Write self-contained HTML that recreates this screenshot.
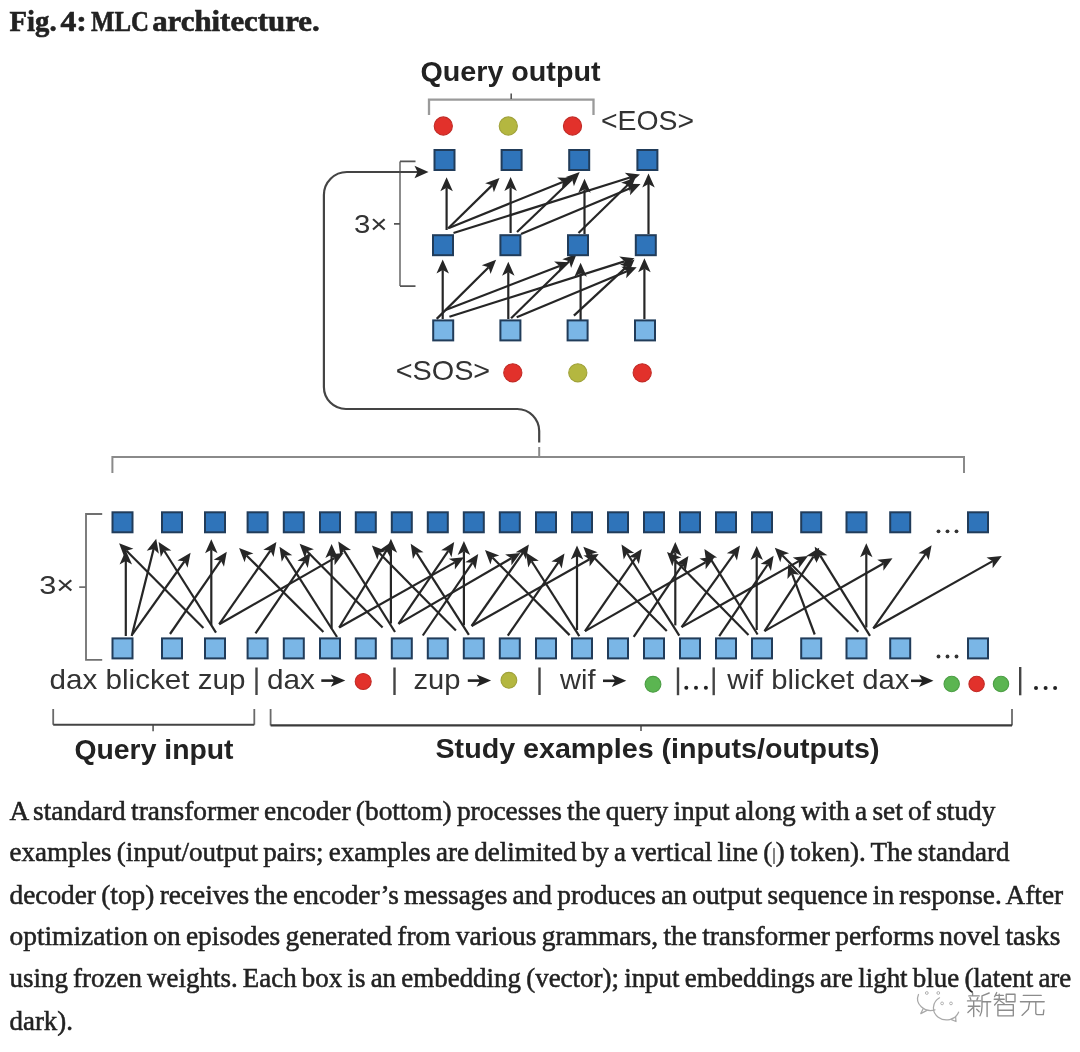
<!DOCTYPE html>
<html><head><meta charset="utf-8"><style>
html,body{margin:0;padding:0;background:#fff;width:1080px;height:1052px;overflow:hidden}
svg{display:block;filter:blur(0.45px)}
</style></head><body>
<svg width="1080" height="1052" viewBox="0 0 1080 1052">
<text x="9.6" y="31" font-family="'Liberation Serif', serif" font-size="29" font-weight="bold" fill="#222" textLength="47" lengthAdjust="spacingAndGlyphs" text-anchor="start" stroke="#222" stroke-width="0.6">Fig.</text>
<text x="60.5" y="31" font-family="'Liberation Serif', serif" font-size="29" font-weight="bold" fill="#222" textLength="26.4" lengthAdjust="spacingAndGlyphs" text-anchor="start" stroke="#222" stroke-width="0.6">4:</text>
<text x="91.0" y="31" font-family="'Liberation Serif', serif" font-size="29" font-weight="bold" fill="#222" textLength="58" lengthAdjust="spacingAndGlyphs" text-anchor="start" stroke="#222" stroke-width="0.6">MLC</text>
<text x="152.2" y="31" font-family="'Liberation Serif', serif" font-size="29" font-weight="bold" fill="#222" textLength="167.5" lengthAdjust="spacingAndGlyphs" text-anchor="start" stroke="#222" stroke-width="0.6">architecture.</text>
<text x="420.5" y="81.3" font-family="'Liberation Sans', sans-serif" font-size="28" font-weight="bold" fill="#222" textLength="180" lengthAdjust="spacingAndGlyphs" text-anchor="start" >Query output</text>
<path d="M429,115V99.6H593.5V115" fill="none" stroke="#9a9a9a" stroke-width="2.3"/>
<path d="M511.2,99V93.6" fill="none" stroke="#555" stroke-width="1.6"/>
<circle cx="443.3" cy="126" r="9.1" fill="#e2312b" stroke="#c22b26" stroke-width="1.1"/>
<circle cx="508.3" cy="126" r="9.1" fill="#b4b740" stroke="#a0a23a" stroke-width="1.1"/>
<circle cx="572.5" cy="126" r="9.1" fill="#e2312b" stroke="#c22b26" stroke-width="1.1"/>
<text x="601" y="129.8" font-family="'Liberation Sans', sans-serif" font-size="28" font-weight="normal" fill="#333" textLength="93" lengthAdjust="spacingAndGlyphs" text-anchor="start" >&lt;EOS&gt;</text>
<line x1="446.60" y1="230.00" x2="446.60" y2="187.70" stroke="#262626" stroke-width="2.2"/><path d="M446.60,177.20L452.85,191.20L446.60,187.70L440.35,191.20Z" fill="#262626"/>
<line x1="448.00" y1="228.50" x2="492.00" y2="185.35" stroke="#262626" stroke-width="2.2"/><path d="M499.50,178.00L493.88,192.26L492.00,185.35L485.13,183.34Z" fill="#262626"/>
<line x1="449.00" y1="228.00" x2="562.77" y2="181.94" stroke="#262626" stroke-width="2.2"/><path d="M572.50,178.00L561.87,189.05L562.77,181.94L557.18,177.46Z" fill="#262626"/>
<line x1="453.50" y1="233.00" x2="629.98" y2="177.55" stroke="#262626" stroke-width="2.2"/><path d="M640.00,174.40L628.52,184.56L629.98,177.55L624.77,172.63Z" fill="#262626"/>
<line x1="510.60" y1="233.00" x2="510.60" y2="187.50" stroke="#262626" stroke-width="2.2"/><path d="M510.60,177.00L516.85,191.00L510.60,187.50L504.35,191.00Z" fill="#262626"/>
<line x1="517.00" y1="232.00" x2="572.11" y2="179.26" stroke="#262626" stroke-width="2.2"/><path d="M579.70,172.00L573.91,186.19L572.11,179.26L565.26,177.16Z" fill="#262626"/>
<line x1="521.00" y1="234.00" x2="630.81" y2="188.05" stroke="#262626" stroke-width="2.2"/><path d="M640.50,184.00L630.00,195.17L630.81,188.05L625.17,183.64Z" fill="#262626"/>
<line x1="584.50" y1="234.00" x2="584.50" y2="189.30" stroke="#262626" stroke-width="2.2"/><path d="M584.50,178.80L590.75,192.80L584.50,189.30L578.25,192.80Z" fill="#262626"/>
<line x1="578.50" y1="233.00" x2="627.98" y2="184.82" stroke="#262626" stroke-width="2.2"/><path d="M635.50,177.50L629.83,191.74L627.98,184.82L621.11,182.79Z" fill="#262626"/>
<line x1="648.50" y1="234.00" x2="648.50" y2="183.90" stroke="#262626" stroke-width="2.2"/><path d="M648.50,173.40L654.75,187.40L648.50,183.90L642.25,187.40Z" fill="#262626"/>
<line x1="442.70" y1="319.00" x2="442.70" y2="270.10" stroke="#262626" stroke-width="2.2"/><path d="M442.70,259.60L448.95,273.60L442.70,270.10L436.45,273.60Z" fill="#262626"/>
<line x1="436.70" y1="318.90" x2="488.66" y2="267.21" stroke="#262626" stroke-width="2.2"/><path d="M496.10,259.80L490.58,274.10L488.66,267.21L481.77,265.24Z" fill="#262626"/>
<line x1="445.60" y1="310.00" x2="559.60" y2="265.98" stroke="#262626" stroke-width="2.2"/><path d="M569.40,262.20L558.59,273.07L559.60,265.98L554.09,261.41Z" fill="#262626"/>
<line x1="449.40" y1="316.70" x2="624.49" y2="261.36" stroke="#262626" stroke-width="2.2"/><path d="M634.50,258.20L623.03,268.38L624.49,261.36L619.27,256.46Z" fill="#262626"/>
<line x1="508.30" y1="319.00" x2="508.30" y2="272.20" stroke="#262626" stroke-width="2.2"/><path d="M508.30,261.70L514.55,275.70L508.30,272.20L502.05,275.70Z" fill="#262626"/>
<line x1="511.10" y1="318.30" x2="569.21" y2="261.16" stroke="#262626" stroke-width="2.2"/><path d="M576.70,253.80L571.10,268.07L569.21,261.16L562.34,259.16Z" fill="#262626"/>
<line x1="516.70" y1="317.20" x2="627.01" y2="271.24" stroke="#262626" stroke-width="2.2"/><path d="M636.70,267.20L626.18,278.35L627.01,271.24L621.37,266.82Z" fill="#262626"/>
<line x1="580.60" y1="322.00" x2="580.60" y2="273.30" stroke="#262626" stroke-width="2.2"/><path d="M580.60,262.80L586.85,276.80L580.60,273.30L574.35,276.80Z" fill="#262626"/>
<line x1="573.90" y1="315.60" x2="626.79" y2="266.63" stroke="#262626" stroke-width="2.2"/><path d="M634.50,259.50L628.47,273.60L626.79,266.63L619.98,264.42Z" fill="#262626"/>
<line x1="644.40" y1="319.00" x2="644.40" y2="268.80" stroke="#262626" stroke-width="2.2"/><path d="M644.40,258.30L650.65,272.30L644.40,268.80L638.15,272.30Z" fill="#262626"/>
<rect x="434.50" y="150.00" width="20" height="20" fill="#2f74ba" stroke="#213c5a" stroke-width="2"/>
<rect x="501.60" y="150.00" width="20" height="20" fill="#2f74ba" stroke="#213c5a" stroke-width="2"/>
<rect x="569.20" y="150.00" width="20" height="20" fill="#2f74ba" stroke="#213c5a" stroke-width="2"/>
<rect x="637.40" y="150.00" width="20" height="20" fill="#2f74ba" stroke="#213c5a" stroke-width="2"/>
<rect x="433.00" y="235.20" width="20" height="20" fill="#2f74ba" stroke="#213c5a" stroke-width="2"/>
<rect x="500.40" y="235.20" width="20" height="20" fill="#2f74ba" stroke="#213c5a" stroke-width="2"/>
<rect x="568.00" y="235.20" width="20" height="20" fill="#2f74ba" stroke="#213c5a" stroke-width="2"/>
<rect x="635.80" y="235.20" width="20" height="20" fill="#2f74ba" stroke="#213c5a" stroke-width="2"/>
<rect x="433.20" y="320.40" width="20" height="20" fill="#7ab6e6" stroke="#213c5a" stroke-width="2"/>
<rect x="500.40" y="320.40" width="20" height="20" fill="#7ab6e6" stroke="#213c5a" stroke-width="2"/>
<rect x="567.60" y="320.40" width="20" height="20" fill="#7ab6e6" stroke="#213c5a" stroke-width="2"/>
<rect x="635.00" y="320.40" width="20" height="20" fill="#7ab6e6" stroke="#213c5a" stroke-width="2"/>
<path d="M400,161.4V286.1" fill="none" stroke="#8c8c8c" stroke-width="2"/>
<path d="M415.5,161.4H400M400,286.1H415.5M400,223.8H394" fill="none" stroke="#555" stroke-width="1.7"/>
<text x="354" y="233.4" font-family="'Liberation Sans', sans-serif" font-size="26.5" font-weight="normal" fill="#333" textLength="33.5" lengthAdjust="spacingAndGlyphs" text-anchor="start" >3×</text>
<text x="395.7" y="380.3" font-family="'Liberation Sans', sans-serif" font-size="28" font-weight="normal" fill="#333" textLength="94.5" lengthAdjust="spacingAndGlyphs" text-anchor="start" >&lt;SOS&gt;</text>
<circle cx="512.8" cy="372.8" r="9.1" fill="#e2312b" stroke="#c22b26" stroke-width="1.1"/>
<circle cx="577.8" cy="372.8" r="9.1" fill="#b4b740" stroke="#a0a23a" stroke-width="1.1"/>
<circle cx="642.2" cy="372.8" r="9.1" fill="#e2312b" stroke="#c22b26" stroke-width="1.1"/>
<path d="M539.2,442.5V431A22,22 0 0 0 517.2,409H345.9A22,22 0 0 1 323.9,387V195A23,23 0 0 1 346.9,172H418" fill="none" stroke="#444" stroke-width="2.2"/>
<path d="M428.5,172L414.5,165.8L417.5,172L414.5,178.2Z" fill="#262626"/>
<path d="M112.4,473V457H964V473M539.2,457V447" fill="none" stroke="#8a8a8a" stroke-width="2"/>
<path d="M102.2,514H86V659.9H102.2M86,587.2H79.2" fill="none" stroke="#707070" stroke-width="1.8"/>
<text x="39.3" y="594.3" font-family="'Liberation Sans', sans-serif" font-size="26.5" font-weight="normal" fill="#333" textLength="35" lengthAdjust="spacingAndGlyphs" text-anchor="start" >3×</text>
<line x1="125.80" y1="636.00" x2="125.80" y2="561.00" stroke="#262626" stroke-width="2.2"/><path d="M125.80,550.50L132.05,564.50L125.80,561.00L119.55,564.50Z" fill="#262626"/>
<line x1="131.70" y1="636.00" x2="153.64" y2="548.88" stroke="#262626" stroke-width="2.2"/><path d="M156.20,538.70L158.84,553.80L153.64,548.88L146.72,550.75Z" fill="#262626"/>
<line x1="132.50" y1="634.20" x2="184.50" y2="561.25" stroke="#262626" stroke-width="2.2"/><path d="M190.60,552.70L187.56,567.73L184.50,561.25L177.38,560.47Z" fill="#262626"/>
<line x1="203.40" y1="628.00" x2="126.51" y2="550.74" stroke="#262626" stroke-width="2.2"/><path d="M119.10,543.30L133.41,548.81L126.51,550.74L124.55,557.63Z" fill="#262626"/>
<line x1="216.00" y1="632.60" x2="164.22" y2="550.77" stroke="#262626" stroke-width="2.2"/><path d="M158.60,541.90L171.37,550.39L164.22,550.77L160.81,557.07Z" fill="#262626"/>
<line x1="170.00" y1="634.00" x2="220.83" y2="560.44" stroke="#262626" stroke-width="2.2"/><path d="M226.80,551.80L223.98,566.87L220.83,560.44L213.70,559.76Z" fill="#262626"/>
<line x1="211.30" y1="625.00" x2="211.30" y2="549.70" stroke="#262626" stroke-width="2.2"/><path d="M211.30,539.20L217.55,553.20L211.30,549.70L205.05,553.20Z" fill="#262626"/>
<line x1="219.20" y1="624.20" x2="270.41" y2="550.52" stroke="#262626" stroke-width="2.2"/><path d="M276.40,541.90L273.54,556.96L270.41,550.52L263.28,549.83Z" fill="#262626"/>
<line x1="219.20" y1="624.20" x2="334.49" y2="558.12" stroke="#262626" stroke-width="2.2"/><path d="M343.60,552.90L334.56,565.28L334.49,558.12L328.35,554.44Z" fill="#262626"/>
<line x1="323.40" y1="632.00" x2="246.54" y2="555.41" stroke="#262626" stroke-width="2.2"/><path d="M239.10,548.00L253.43,553.45L246.54,555.41L244.61,562.31Z" fill="#262626"/>
<line x1="255.50" y1="633.40" x2="304.58" y2="561.47" stroke="#262626" stroke-width="2.2"/><path d="M310.50,552.80L307.77,567.89L304.58,561.47L297.45,560.84Z" fill="#262626"/>
<line x1="337.00" y1="637.00" x2="285.14" y2="555.56" stroke="#262626" stroke-width="2.2"/><path d="M279.50,546.70L292.29,555.15L285.14,555.56L281.75,561.87Z" fill="#262626"/>
<line x1="382.60" y1="627.60" x2="306.99" y2="551.26" stroke="#262626" stroke-width="2.2"/><path d="M299.60,543.80L313.89,549.35L306.99,551.26L305.01,558.15Z" fill="#262626"/>
<line x1="331.60" y1="628.50" x2="331.60" y2="554.50" stroke="#262626" stroke-width="2.2"/><path d="M331.60,544.00L337.85,558.00L331.60,554.50L325.35,558.00Z" fill="#262626"/>
<line x1="395.00" y1="632.00" x2="343.87" y2="550.30" stroke="#262626" stroke-width="2.2"/><path d="M338.30,541.40L351.03,549.95L343.87,550.30L340.43,556.58Z" fill="#262626"/>
<line x1="339.20" y1="627.50" x2="386.51" y2="550.45" stroke="#262626" stroke-width="2.2"/><path d="M392.00,541.50L390.00,556.70L386.51,550.45L379.35,550.16Z" fill="#262626"/>
<line x1="339.20" y1="627.50" x2="454.85" y2="562.35" stroke="#262626" stroke-width="2.2"/><path d="M464.00,557.20L454.87,569.52L454.85,562.35L448.73,558.63Z" fill="#262626"/>
<line x1="455.90" y1="630.40" x2="379.28" y2="552.96" stroke="#262626" stroke-width="2.2"/><path d="M371.90,545.50L386.19,551.06L379.28,552.96L377.30,559.85Z" fill="#262626"/>
<line x1="390.90" y1="623.50" x2="390.90" y2="549.30" stroke="#262626" stroke-width="2.2"/><path d="M390.90,538.80L397.15,552.80L390.90,549.30L384.65,552.80Z" fill="#262626"/>
<line x1="398.50" y1="623.90" x2="448.29" y2="550.78" stroke="#262626" stroke-width="2.2"/><path d="M454.20,542.10L451.49,557.19L448.29,550.78L441.15,550.15Z" fill="#262626"/>
<line x1="463.90" y1="625.30" x2="463.90" y2="551.50" stroke="#262626" stroke-width="2.2"/><path d="M463.90,541.00L470.15,555.00L463.90,551.50L457.65,555.00Z" fill="#262626"/>
<line x1="398.50" y1="623.90" x2="511.33" y2="558.18" stroke="#262626" stroke-width="2.2"/><path d="M520.40,552.90L511.45,565.35L511.33,558.18L505.16,554.55Z" fill="#262626"/>
<line x1="422.80" y1="635.50" x2="472.29" y2="562.78" stroke="#262626" stroke-width="2.2"/><path d="M478.20,554.10L475.49,569.19L472.29,562.78L465.16,562.16Z" fill="#262626"/>
<line x1="468.90" y1="634.80" x2="416.36" y2="552.65" stroke="#262626" stroke-width="2.2"/><path d="M410.70,543.80L423.51,552.23L416.36,552.65L412.98,558.96Z" fill="#262626"/>
<line x1="471.60" y1="626.00" x2="522.87" y2="552.99" stroke="#262626" stroke-width="2.2"/><path d="M528.90,544.40L525.97,559.45L522.87,552.99L515.74,552.27Z" fill="#262626"/>
<line x1="471.60" y1="626.00" x2="589.56" y2="559.27" stroke="#262626" stroke-width="2.2"/><path d="M598.70,554.10L589.59,566.43L589.56,559.27L583.44,555.55Z" fill="#262626"/>
<line x1="569.60" y1="635.10" x2="492.41" y2="557.54" stroke="#262626" stroke-width="2.2"/><path d="M485.00,550.10L499.31,555.61L492.41,557.54L490.45,564.43Z" fill="#262626"/>
<line x1="507.80" y1="635.60" x2="558.53" y2="562.14" stroke="#262626" stroke-width="2.2"/><path d="M564.50,553.50L561.69,568.57L558.53,562.14L551.40,561.47Z" fill="#262626"/>
<line x1="579.30" y1="636.20" x2="531.64" y2="561.26" stroke="#262626" stroke-width="2.2"/><path d="M526.00,552.40L538.79,560.86L531.64,561.26L528.24,567.57Z" fill="#262626"/>
<line x1="577.00" y1="630.00" x2="577.00" y2="556.00" stroke="#262626" stroke-width="2.2"/><path d="M577.00,545.50L583.25,559.50L577.00,556.00L570.75,559.50Z" fill="#262626"/>
<line x1="585.00" y1="631.10" x2="635.73" y2="557.64" stroke="#262626" stroke-width="2.2"/><path d="M641.70,549.00L638.89,564.07L635.73,557.64L628.60,556.97Z" fill="#262626"/>
<line x1="585.00" y1="631.10" x2="705.58" y2="562.21" stroke="#262626" stroke-width="2.2"/><path d="M714.70,557.00L705.64,569.37L705.58,562.21L699.44,558.52Z" fill="#262626"/>
<line x1="679.30" y1="635.60" x2="627.12" y2="553.27" stroke="#262626" stroke-width="2.2"/><path d="M621.50,544.40L634.27,552.88L627.12,553.27L623.72,559.57Z" fill="#262626"/>
<line x1="666.80" y1="631.10" x2="590.68" y2="554.16" stroke="#262626" stroke-width="2.2"/><path d="M583.30,546.70L597.59,552.26L590.68,554.16L588.70,561.05Z" fill="#262626"/>
<line x1="633.70" y1="636.80" x2="682.51" y2="564.69" stroke="#262626" stroke-width="2.2"/><path d="M688.40,556.00L685.73,571.10L682.51,564.69L675.38,564.09Z" fill="#262626"/>
<line x1="675.30" y1="625.40" x2="675.30" y2="552.60" stroke="#262626" stroke-width="2.2"/><path d="M675.30,542.10L681.55,556.10L675.30,552.60L669.05,556.10Z" fill="#262626"/>
<line x1="748.50" y1="635.00" x2="674.36" y2="559.49" stroke="#262626" stroke-width="2.2"/><path d="M667.00,552.00L681.27,557.61L674.36,559.49L672.35,566.37Z" fill="#262626"/>
<line x1="757.60" y1="634.50" x2="709.95" y2="557.92" stroke="#262626" stroke-width="2.2"/><path d="M704.40,549.00L717.10,557.58L709.95,557.92L706.49,564.19Z" fill="#262626"/>
<line x1="681.60" y1="627.10" x2="733.89" y2="554.04" stroke="#262626" stroke-width="2.2"/><path d="M740.00,545.50L736.93,560.52L733.89,554.04L726.77,553.25Z" fill="#262626"/>
<line x1="681.60" y1="627.10" x2="798.85" y2="561.15" stroke="#262626" stroke-width="2.2"/><path d="M808.00,556.00L798.86,568.31L798.85,561.15L792.73,557.42Z" fill="#262626"/>
<line x1="719.20" y1="636.20" x2="767.72" y2="564.50" stroke="#262626" stroke-width="2.2"/><path d="M773.60,555.80L770.93,570.90L767.72,564.50L760.58,563.89Z" fill="#262626"/>
<line x1="756.70" y1="630.00" x2="756.70" y2="556.60" stroke="#262626" stroke-width="2.2"/><path d="M756.70,546.10L762.95,560.10L756.70,556.60L750.45,560.10Z" fill="#262626"/>
<line x1="858.30" y1="631.70" x2="782.21" y2="555.24" stroke="#262626" stroke-width="2.2"/><path d="M774.80,547.80L789.11,553.31L782.21,555.24L780.25,562.13Z" fill="#262626"/>
<line x1="764.50" y1="631.10" x2="813.44" y2="556.58" stroke="#262626" stroke-width="2.2"/><path d="M819.20,547.80L816.74,562.93L813.44,556.58L806.29,556.07Z" fill="#262626"/>
<line x1="764.50" y1="631.10" x2="883.37" y2="563.49" stroke="#262626" stroke-width="2.2"/><path d="M892.50,558.30L883.42,570.65L883.37,563.49L877.24,559.79Z" fill="#262626"/>
<line x1="814.70" y1="634.50" x2="792.06" y2="573.64" stroke="#262626" stroke-width="2.2"/><path d="M788.40,563.80L799.14,574.74L792.06,573.64L787.42,579.10Z" fill="#262626"/>
<line x1="870.00" y1="635.80" x2="820.24" y2="555.62" stroke="#262626" stroke-width="2.2"/><path d="M814.70,546.70L827.39,555.30L820.24,555.62L816.77,561.89Z" fill="#262626"/>
<line x1="866.30" y1="627.50" x2="866.30" y2="553.80" stroke="#262626" stroke-width="2.2"/><path d="M866.30,543.30L872.55,557.30L866.30,553.80L860.05,557.30Z" fill="#262626"/>
<line x1="873.30" y1="628.30" x2="925.56" y2="553.89" stroke="#262626" stroke-width="2.2"/><path d="M931.60,545.30L928.67,560.35L925.56,553.89L918.44,553.16Z" fill="#262626"/>
<line x1="873.30" y1="628.30" x2="992.65" y2="561.15" stroke="#262626" stroke-width="2.2"/><path d="M1001.80,556.00L992.66,568.31L992.65,561.15L986.53,557.42Z" fill="#262626"/>
<rect x="112.50" y="512.30" width="20" height="20" fill="#2f74ba" stroke="#213c5a" stroke-width="2"/>
<rect x="112.50" y="638.40" width="20" height="20" fill="#7ab6e6" stroke="#213c5a" stroke-width="2"/>
<rect x="162.00" y="512.30" width="20" height="20" fill="#2f74ba" stroke="#213c5a" stroke-width="2"/>
<rect x="162.00" y="638.40" width="20" height="20" fill="#7ab6e6" stroke="#213c5a" stroke-width="2"/>
<rect x="205.00" y="512.30" width="20" height="20" fill="#2f74ba" stroke="#213c5a" stroke-width="2"/>
<rect x="205.00" y="638.40" width="20" height="20" fill="#7ab6e6" stroke="#213c5a" stroke-width="2"/>
<rect x="247.60" y="512.30" width="20" height="20" fill="#2f74ba" stroke="#213c5a" stroke-width="2"/>
<rect x="247.60" y="638.40" width="20" height="20" fill="#7ab6e6" stroke="#213c5a" stroke-width="2"/>
<rect x="283.80" y="512.30" width="20" height="20" fill="#2f74ba" stroke="#213c5a" stroke-width="2"/>
<rect x="283.80" y="638.40" width="20" height="20" fill="#7ab6e6" stroke="#213c5a" stroke-width="2"/>
<rect x="320.00" y="512.30" width="20" height="20" fill="#2f74ba" stroke="#213c5a" stroke-width="2"/>
<rect x="320.00" y="638.40" width="20" height="20" fill="#7ab6e6" stroke="#213c5a" stroke-width="2"/>
<rect x="355.80" y="512.30" width="20" height="20" fill="#2f74ba" stroke="#213c5a" stroke-width="2"/>
<rect x="355.80" y="638.40" width="20" height="20" fill="#7ab6e6" stroke="#213c5a" stroke-width="2"/>
<rect x="391.80" y="512.30" width="20" height="20" fill="#2f74ba" stroke="#213c5a" stroke-width="2"/>
<rect x="391.80" y="638.40" width="20" height="20" fill="#7ab6e6" stroke="#213c5a" stroke-width="2"/>
<rect x="427.80" y="512.30" width="20" height="20" fill="#2f74ba" stroke="#213c5a" stroke-width="2"/>
<rect x="427.80" y="638.40" width="20" height="20" fill="#7ab6e6" stroke="#213c5a" stroke-width="2"/>
<rect x="463.80" y="512.30" width="20" height="20" fill="#2f74ba" stroke="#213c5a" stroke-width="2"/>
<rect x="463.80" y="638.40" width="20" height="20" fill="#7ab6e6" stroke="#213c5a" stroke-width="2"/>
<rect x="499.80" y="512.30" width="20" height="20" fill="#2f74ba" stroke="#213c5a" stroke-width="2"/>
<rect x="499.80" y="638.40" width="20" height="20" fill="#7ab6e6" stroke="#213c5a" stroke-width="2"/>
<rect x="536.00" y="512.30" width="20" height="20" fill="#2f74ba" stroke="#213c5a" stroke-width="2"/>
<rect x="536.00" y="638.40" width="20" height="20" fill="#7ab6e6" stroke="#213c5a" stroke-width="2"/>
<rect x="572.00" y="512.30" width="20" height="20" fill="#2f74ba" stroke="#213c5a" stroke-width="2"/>
<rect x="572.00" y="638.40" width="20" height="20" fill="#7ab6e6" stroke="#213c5a" stroke-width="2"/>
<rect x="608.00" y="512.30" width="20" height="20" fill="#2f74ba" stroke="#213c5a" stroke-width="2"/>
<rect x="608.00" y="638.40" width="20" height="20" fill="#7ab6e6" stroke="#213c5a" stroke-width="2"/>
<rect x="644.00" y="512.30" width="20" height="20" fill="#2f74ba" stroke="#213c5a" stroke-width="2"/>
<rect x="644.00" y="638.40" width="20" height="20" fill="#7ab6e6" stroke="#213c5a" stroke-width="2"/>
<rect x="680.00" y="512.30" width="20" height="20" fill="#2f74ba" stroke="#213c5a" stroke-width="2"/>
<rect x="680.00" y="638.40" width="20" height="20" fill="#7ab6e6" stroke="#213c5a" stroke-width="2"/>
<rect x="716.00" y="512.30" width="20" height="20" fill="#2f74ba" stroke="#213c5a" stroke-width="2"/>
<rect x="716.00" y="638.40" width="20" height="20" fill="#7ab6e6" stroke="#213c5a" stroke-width="2"/>
<rect x="752.00" y="512.30" width="20" height="20" fill="#2f74ba" stroke="#213c5a" stroke-width="2"/>
<rect x="752.00" y="638.40" width="20" height="20" fill="#7ab6e6" stroke="#213c5a" stroke-width="2"/>
<rect x="801.20" y="512.30" width="20" height="20" fill="#2f74ba" stroke="#213c5a" stroke-width="2"/>
<rect x="801.20" y="638.40" width="20" height="20" fill="#7ab6e6" stroke="#213c5a" stroke-width="2"/>
<rect x="846.50" y="512.30" width="20" height="20" fill="#2f74ba" stroke="#213c5a" stroke-width="2"/>
<rect x="846.50" y="638.40" width="20" height="20" fill="#7ab6e6" stroke="#213c5a" stroke-width="2"/>
<rect x="890.20" y="512.30" width="20" height="20" fill="#2f74ba" stroke="#213c5a" stroke-width="2"/>
<rect x="890.20" y="638.40" width="20" height="20" fill="#7ab6e6" stroke="#213c5a" stroke-width="2"/>
<rect x="968.00" y="512.30" width="20" height="20" fill="#2f74ba" stroke="#213c5a" stroke-width="2"/>
<rect x="968.00" y="638.40" width="20" height="20" fill="#7ab6e6" stroke="#213c5a" stroke-width="2"/>
<circle cx="938.5" cy="531.3" r="1.9" fill="#333"/>
<circle cx="947.5" cy="531.3" r="1.9" fill="#333"/>
<circle cx="956.5" cy="531.3" r="1.9" fill="#333"/>
<circle cx="938.5" cy="656.5" r="1.9" fill="#333"/>
<circle cx="947.5" cy="656.5" r="1.9" fill="#333"/>
<circle cx="956.5" cy="656.5" r="1.9" fill="#333"/>
<text x="49.5" y="689" font-family="'Liberation Sans', sans-serif" font-size="27.5" font-weight="normal" fill="#333" textLength="196" lengthAdjust="spacingAndGlyphs" text-anchor="start" >dax blicket zup</text>
<line x1="256.5" y1="667.5" x2="256.5" y2="695" stroke="#444" stroke-width="2.4"/>
<text x="267" y="689" font-family="'Liberation Sans', sans-serif" font-size="27.5" font-weight="normal" fill="#333" textLength="48" lengthAdjust="spacingAndGlyphs" text-anchor="start" >dax</text>
<line x1="321.3" y1="680.6" x2="335.3" y2="680.6" stroke="#222" stroke-width="2.6"/><path d="M345.3,680.6L330.8,674.4L334.3,680.6L330.8,686.8000000000001Z" fill="#222"/>
<circle cx="363.2" cy="681.5" r="8.0" fill="#e2312b" stroke="#c22b26" stroke-width="1.1"/>
<line x1="394.5" y1="667.5" x2="394.5" y2="695" stroke="#444" stroke-width="2.4"/>
<text x="413.5" y="689" font-family="'Liberation Sans', sans-serif" font-size="27.5" font-weight="normal" fill="#333" textLength="47" lengthAdjust="spacingAndGlyphs" text-anchor="start" >zup</text>
<line x1="467.8" y1="680.6" x2="481.1" y2="680.6" stroke="#222" stroke-width="2.6"/><path d="M491.1,680.6L476.6,674.4L480.1,680.6L476.6,686.8000000000001Z" fill="#222"/>
<circle cx="508.9" cy="680.3" r="7.9" fill="#b4b740" stroke="#a0a23a" stroke-width="1.1"/>
<line x1="539.5" y1="667.5" x2="539.5" y2="695" stroke="#444" stroke-width="2.4"/>
<text x="560" y="689" font-family="'Liberation Sans', sans-serif" font-size="27.5" font-weight="normal" fill="#333" textLength="35.5" lengthAdjust="spacingAndGlyphs" text-anchor="start" >wif</text>
<line x1="603" y1="680.8" x2="616.3" y2="680.8" stroke="#222" stroke-width="2.6"/><path d="M626.3,680.8L611.8,674.5999999999999L615.3,680.8L611.8,687.0Z" fill="#222"/>
<circle cx="653" cy="684.3" r="7.9" fill="#5bb551" stroke="#4c9e45" stroke-width="1.1"/>
<line x1="678" y1="667.4" x2="678" y2="695.2" stroke="#444" stroke-width="2.4"/>
<circle cx="686.3" cy="687.8" r="2" fill="#222"/>
<circle cx="696.0" cy="687.8" r="2" fill="#222"/>
<circle cx="705.9" cy="687.8" r="2" fill="#222"/>
<line x1="713.7" y1="667.4" x2="713.7" y2="695.2" stroke="#444" stroke-width="2.4"/>
<text x="727.3" y="689" font-family="'Liberation Sans', sans-serif" font-size="27.5" font-weight="normal" fill="#333" textLength="182" lengthAdjust="spacingAndGlyphs" text-anchor="start" >wif blicket dax</text>
<line x1="911" y1="680.8" x2="923.5" y2="680.8" stroke="#222" stroke-width="2.6"/><path d="M933.5,680.8L919.0,674.5999999999999L922.5,680.8L919.0,687.0Z" fill="#222"/>
<circle cx="951.7" cy="684" r="7.699999999999999" fill="#5bb551" stroke="#4c9e45" stroke-width="1.1"/>
<circle cx="976.6" cy="684" r="7.699999999999999" fill="#e2312b" stroke="#c22b26" stroke-width="1.1"/>
<circle cx="1001" cy="684" r="7.699999999999999" fill="#5bb551" stroke="#4c9e45" stroke-width="1.1"/>
<line x1="1020.2" y1="667" x2="1020.2" y2="695.3" stroke="#444" stroke-width="2.4"/>
<circle cx="1036.0" cy="688" r="2" fill="#222"/>
<circle cx="1045.6" cy="688" r="2" fill="#222"/>
<circle cx="1055.1" cy="688" r="2" fill="#222"/>
<path d="M53.2,709V724.8M254.3,724.8V709M153.1,724.8V731.3" fill="none" stroke="#6a6a6a" stroke-width="1.8"/>
<path d="M53.2,724.8H254.3" fill="none" stroke="#444" stroke-width="2.1"/>
<path d="M270.6,709V725.4M1012,725.4V709M641,725.4V731" fill="none" stroke="#6a6a6a" stroke-width="1.8"/>
<path d="M270.6,725.4H1012" fill="none" stroke="#3a3a3a" stroke-width="2.2"/>
<text x="74.5" y="759.2" font-family="'Liberation Sans', sans-serif" font-size="28" font-weight="bold" fill="#222" textLength="159" lengthAdjust="spacingAndGlyphs" text-anchor="start" >Query input</text>
<text x="435.5" y="757.8" font-family="'Liberation Sans', sans-serif" font-size="28" font-weight="bold" fill="#222" textLength="444" lengthAdjust="spacingAndGlyphs" text-anchor="start" >Study examples (inputs/outputs)</text>
<text x="9.5" y="819.5" font-family="'Liberation Serif', serif" font-size="26.4" font-weight="normal" fill="#222" textLength="986" lengthAdjust="spacingAndGlyphs" text-anchor="start" stroke="#222" stroke-width="0.5" word-spacing="-1.5">A standard transformer encoder (bottom) processes the query input along with a set of study</text>
<text x="9.5" y="861.3" font-family="'Liberation Serif', serif" font-size="26.4" font-weight="normal" fill="#222" textLength="1000" lengthAdjust="spacingAndGlyphs" text-anchor="start" stroke="#222" stroke-width="0.5" word-spacing="-1.5">examples (input/output pairs; examples are delimited by a vertical line (<tspan font-size="17" dy="-1" stroke-width="0.2">|</tspan><tspan dy="1">)</tspan> token). The standard</text>
<text x="9.5" y="903.6" font-family="'Liberation Serif', serif" font-size="26.4" font-weight="normal" fill="#222" textLength="1053.7" lengthAdjust="spacingAndGlyphs" text-anchor="start" stroke="#222" stroke-width="0.5" word-spacing="-1.5">decoder (top) receives the encoder’s messages and produces an output sequence in response. After</text>
<text x="9.5" y="945.0" font-family="'Liberation Serif', serif" font-size="26.4" font-weight="normal" fill="#222" textLength="1050.8" lengthAdjust="spacingAndGlyphs" text-anchor="start" stroke="#222" stroke-width="0.5" word-spacing="-1.5">optimization on episodes generated from various grammars, the transformer performs novel tasks</text>
<text x="9.5" y="987.1" font-family="'Liberation Serif', serif" font-size="26.4" font-weight="normal" fill="#222" textLength="1061.8" lengthAdjust="spacingAndGlyphs" text-anchor="start" stroke="#222" stroke-width="0.5" word-spacing="-1.5">using frozen weights. Each box is an embedding (vector); input embeddings are light blue (latent are</text>
<text x="9.5" y="1029.6" font-family="'Liberation Serif', serif" font-size="26.4" font-weight="normal" fill="#222" textLength="63.5" lengthAdjust="spacingAndGlyphs" text-anchor="start" stroke="#222" stroke-width="0.5" word-spacing="-1.5">dark).</text>
<g fill="none" stroke="#8c8c8c" stroke-width="1.35" stroke-linecap="round" stroke-linejoin="round"><path d="M972.6,993V995.2M968.8,995.9H979.2M970,997.6L970.8,999.6M977.9,997.6L977,999.6M967.5,1000.9H980.8M968.3,1006.2H980M973.7,1001V1016.6M973.7,1007L967.9,1012.5M976.7,1009.2L979.2,1011.7"/><path d="M989.2,993L982,995.8V1006.7Q982,1012 980,1015.8M982,1001.7H990.8M987.1,1001.7V1016.6"/><path d="M996.7,992.5L994.6,996.7M995.4,995.4H1003.3M994.2,999.2H1004.2M999.2,994.2V999.6L994.6,1005M1000,1000.8L1004.2,1003.7"/><path d="M1006.2,994.2H1015V1001.7H1006.2Z"/><path d="M997.9,1004.6H1013.3V1015.8H997.9ZM997.9,1010.2H1013.3"/><path d="M1023.3,995.4H1041.2M1020.4,1001.7H1044.2M1029.6,1002L1028.3,1009.2L1022,1015.4M1035.8,1002V1013.3Q1036,1014.6 1037.5,1014.6H1043.3L1043.8,1010"/></g>
<g fill="none" stroke="#a9a9a9" stroke-width="1.25" stroke-linecap="round" stroke-linejoin="round"><path d="M918.5,994.5A13.2,11.7 0 0 0 935,1009.8"/><path d="M923,1009L920.8,1013.6L926.5,1010.6"/><path d="M939.5,997.8A13,12 0 1 0 958.6,1012.2"/><path d="M951.5,1019.6L956,1021.5L955.6,1016.6"/></g>
<circle cx="926.8" cy="993" r="1.4" fill="none" stroke="#b0b0b0" stroke-width="1"/>
<circle cx="938.3" cy="993" r="1.4" fill="none" stroke="#b0b0b0" stroke-width="1"/>
<circle cx="942.1" cy="1003.4" r="1.4" fill="none" stroke="#b0b0b0" stroke-width="1"/>
<circle cx="951" cy="1003.4" r="1.4" fill="none" stroke="#b0b0b0" stroke-width="1"/>
</svg>
</body></html>
